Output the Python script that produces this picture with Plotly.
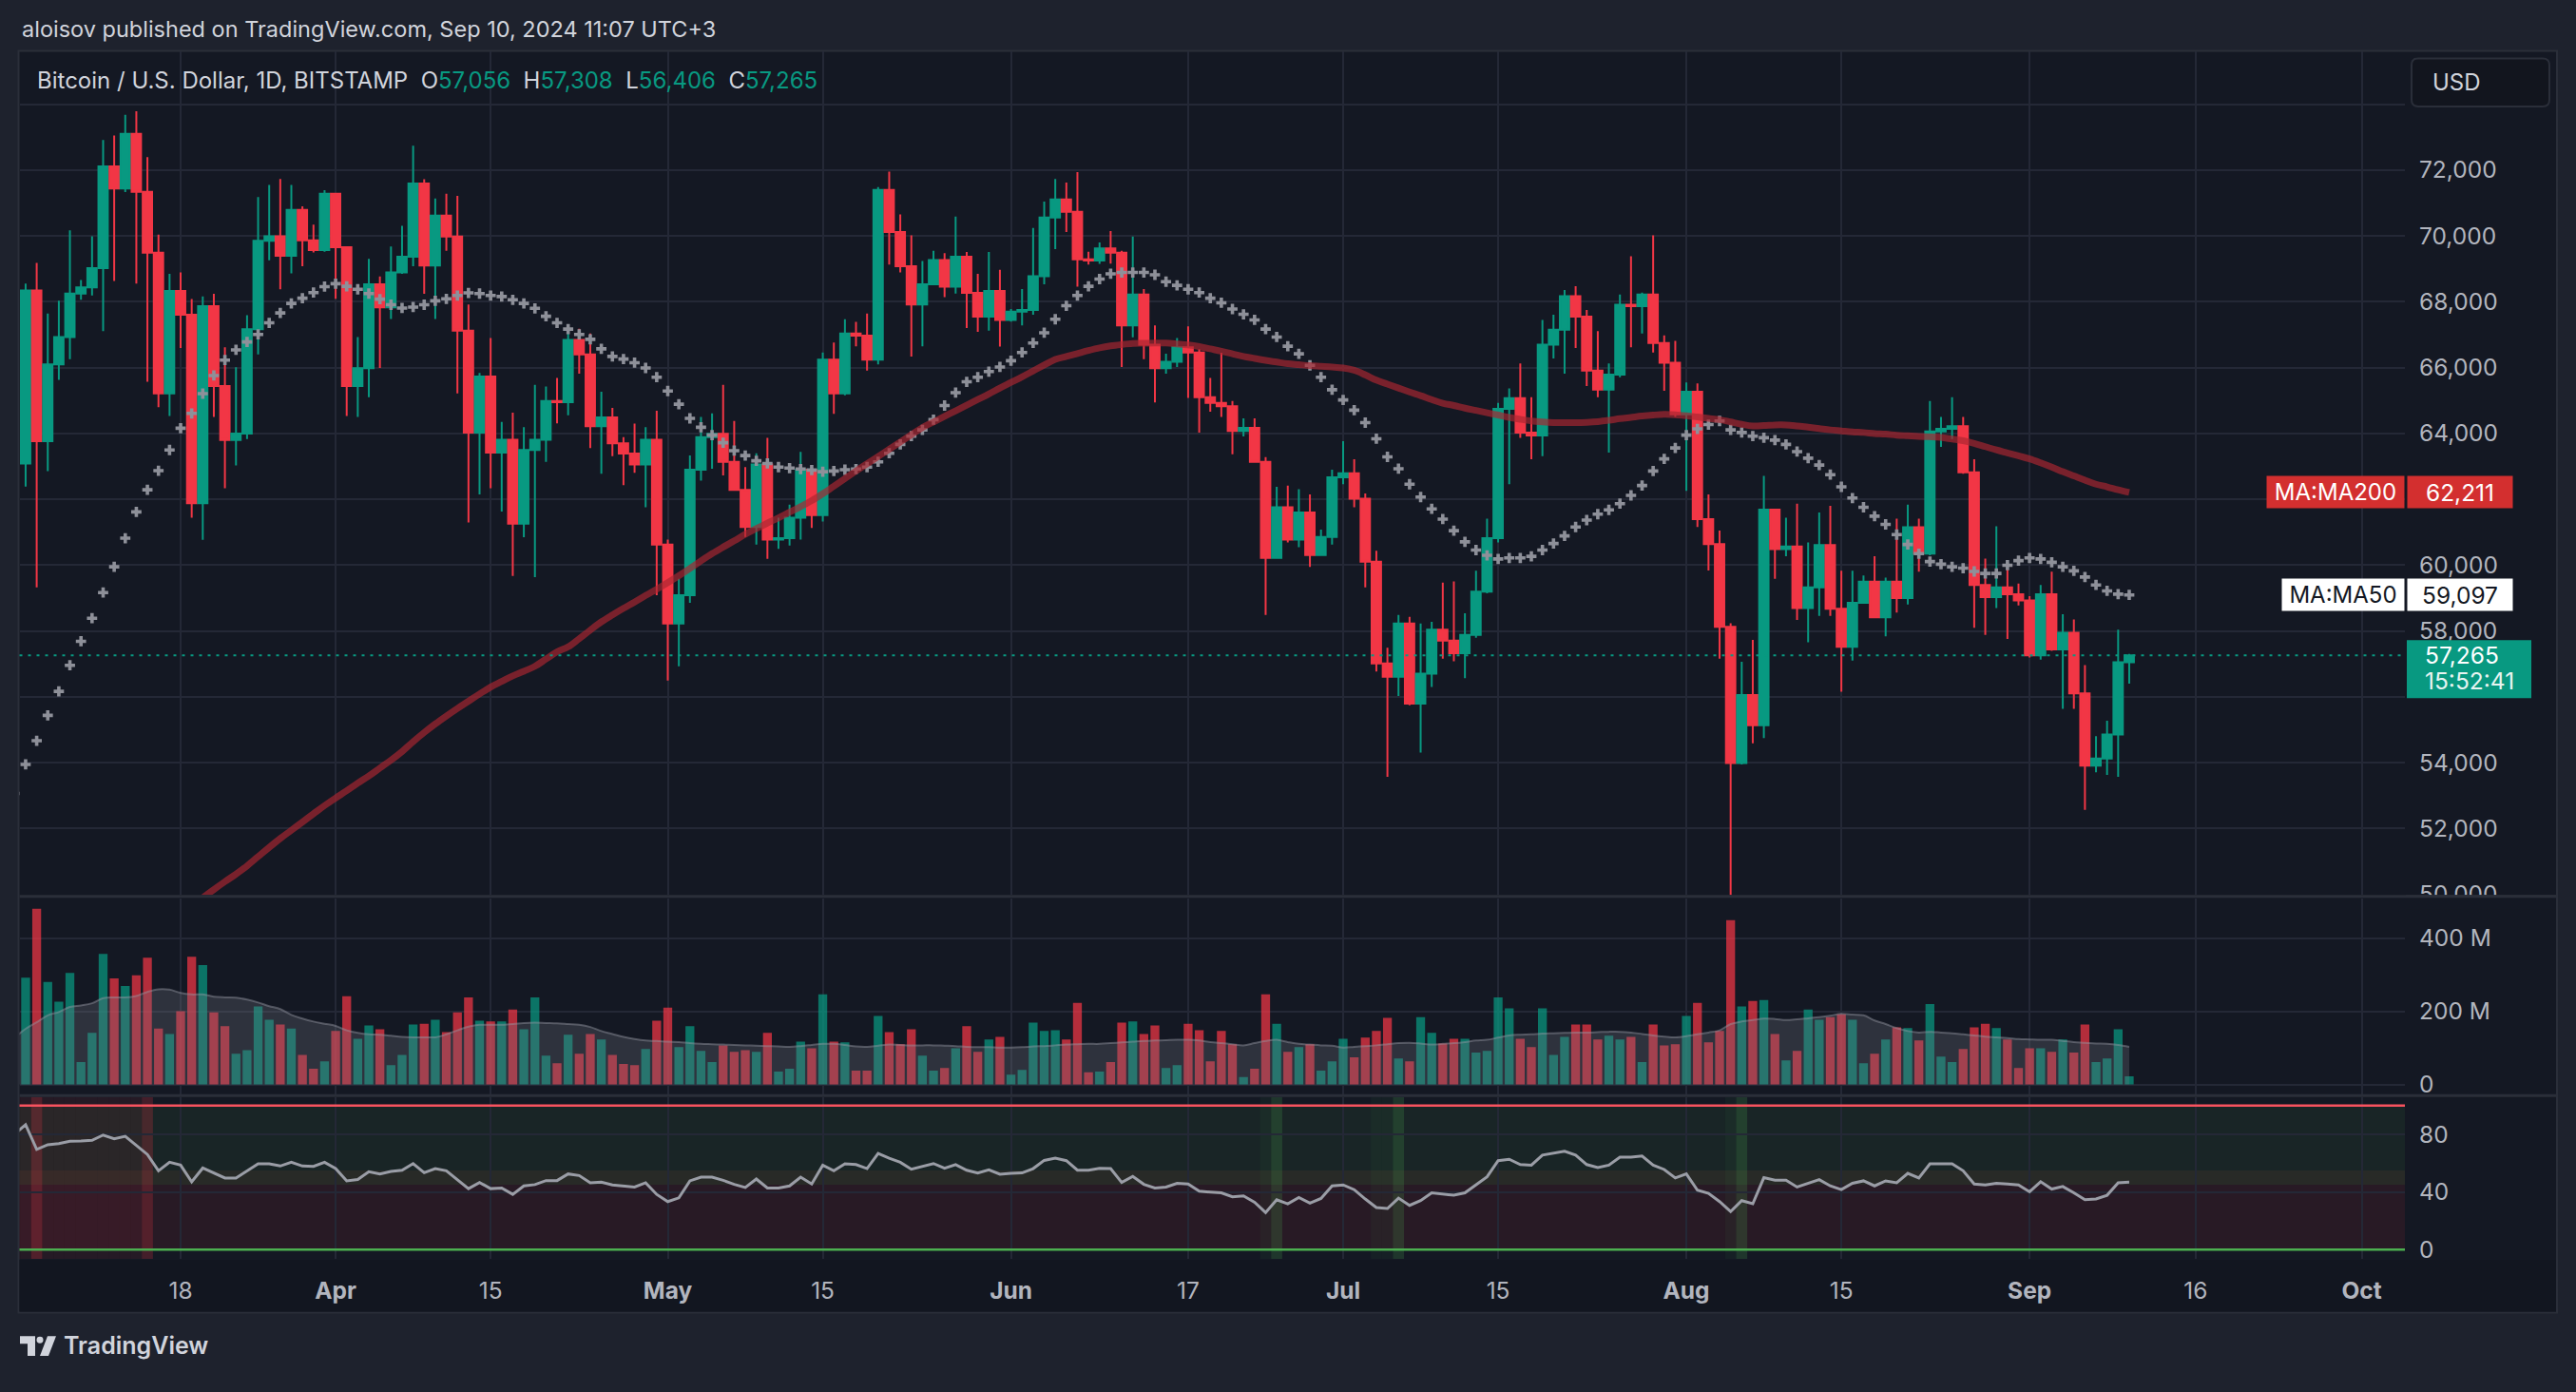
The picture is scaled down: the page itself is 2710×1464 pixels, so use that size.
import pandas as pd
import plotly.graph_objects as go

# the page adds a small strip under the figure; keep the figure itself a bit shorter than the window
W, H = 2710, 1448

# BTC/USD daily candles (BITSTAMP), 4 Mar 2024 .. 10 Sep 2024
opens = [
    63090, 68340, 63770, 66100, 66930, 68250, 68440, 69020, 72110, 71440,
    73100, 71340, 69490, 65220, 68330, 67610, 61880, 67870, 65440, 63800,
    64000, 67170, 69850, 69990, 69400, 70790, 69870, 69570, 71280, 69660,
    65440, 65980, 68530, 67830, 68890, 69370, 71590, 69100, 70620, 69980,
    67120, 64030, 65730, 63420, 63810, 61260, 63500, 63810, 64990, 64950,
    66840, 66400, 64220, 64490, 63700, 63390, 63060, 63810, 60630, 58230,
    59090, 62900, 63890, 63990, 63140, 62290, 61160, 63060, 60780, 60820,
    61440, 62900, 61520, 66240, 65220, 67040, 66970, 66240, 71400, 70120,
    69080, 67920, 68530, 69270, 68460, 69370, 68270, 67550, 68330, 67450,
    67700, 67750, 68780, 70560, 71110, 70730, 69290, 69250, 69620, 69490,
    67280, 68220, 66700, 65980, 66180, 66620, 66460, 65100, 64930, 64830,
    64080, 64170, 63140, 60220, 61760, 60780, 61600, 60310, 60860, 62670,
    62790, 62020, 60110, 57020, 56610, 58230, 55800, 56710, 58040, 57710,
    57330, 57880, 59200, 60820, 64750, 65070, 64030, 63940, 66700, 67150,
    68170, 67550, 65910, 65330, 65790, 67910, 67870, 68220, 66750, 66150,
    64580, 65270, 61400, 60640, 58130, 53990, 56060, 55140, 61690, 60490,
    60570, 58700, 59330, 60610, 58680, 57520, 58860, 59500, 58420, 59500,
    59000, 61150, 60350, 64060, 64140, 64220, 62820, 59400, 59030, 59330,
    59120, 58930, 57260, 59120, 57440, 57950, 56110, 53910, 54130, 54860,
    57056,
]
highs = [
    68550, 69180, 67640, 68030, 70170, 68660, 69990, 72910, 73050, 73680,
    73790, 72390, 70040, 68850, 68890, 68080, 68160, 68240, 66620, 66010,
    67590, 71180, 71550, 71730, 71550, 70900, 70340, 71390, 71300, 69680,
    66930, 69300, 68770, 69680, 70310, 72740, 71720, 71140, 71280, 71220,
    67920, 65840, 66900, 64350, 64630, 64190, 65480, 65430, 65690, 67250,
    67180, 67040, 65270, 64780, 63890, 64300, 64190, 64690, 60780, 59590,
    63330, 64500, 64610, 65480, 64380, 62980, 63400, 63870, 61440, 61840,
    63440, 63040, 66460, 66760, 67470, 67390, 67640, 71480, 71950, 70650,
    70020, 69240, 69550, 69480, 70590, 69510, 68850, 69510, 68970, 67780,
    68390, 70240, 71040, 71730, 71620, 71940, 69520, 69800, 70150, 69550,
    69980, 68390, 67280, 66420, 66900, 67250, 66560, 65690, 66450, 64990,
    64460, 64460, 63280, 62380, 62420, 62310, 62150, 61080, 62900, 63770,
    63220, 62180, 60440, 57490, 58490, 58430, 58230, 58280, 59470, 59510,
    58540, 59830, 61410, 64930, 65370, 66130, 65100, 67450, 67610, 68360,
    68470, 67750, 67110, 66130, 68220, 69380, 68280, 70020, 66980, 66810,
    65550, 65520, 62150, 61050, 58240, 57070, 57730, 62710, 61710, 61440,
    61870, 60690, 61600, 61800, 59830, 59830, 59690, 60270, 59620, 61410,
    61840, 61410, 64990, 64500, 65100, 64500, 63220, 60200, 61180, 59880,
    59440, 59060, 59400, 59800, 58510, 58350, 56970, 54810, 55280, 58040,
    57308,
]
lows = [
    62390, 59330, 62860, 65630, 66260, 68060, 68190, 67110, 68630, 71330,
    68550, 65570, 64800, 64530, 66600, 61440, 60770, 64500, 62340, 63030,
    63830, 66400, 69260, 68380, 68860, 69080, 69500, 69520, 68090, 64530,
    64500, 65100, 65990, 67480, 68850, 69080, 68240, 67480, 69550, 65220,
    61300, 62150, 62340, 61630, 59670, 60850, 59640, 63140, 64310, 64550,
    65820, 63560, 62780, 63310, 62430, 62810, 61760, 59090, 56500, 56930,
    58860, 62570, 62930, 62730, 62260, 60860, 60630, 60190, 60500, 60600,
    60780, 61130, 61330, 64600, 65160, 66650, 65910, 66100, 69130, 68890,
    66340, 66650, 68500, 68140, 68250, 67200, 67090, 67120, 66640, 67400,
    67280, 67610, 68530, 69600, 70120, 68460, 69130, 69150, 69160, 66020,
    66920, 66260, 64940, 65820, 66020, 65080, 64030, 64660, 64500, 63370,
    63910, 63130, 58490, 60200, 60690, 60550, 59950, 60300, 60630, 62460,
    61760, 59330, 56770, 53570, 56030, 55750, 54310, 56300, 57160, 57080,
    56570, 57800, 59150, 60690, 62460, 63870, 63220, 63310, 66280, 65820,
    66600, 65440, 65100, 63420, 65710, 66620, 67040, 66460, 65300, 64500,
    62260, 61160, 59840, 57160, 49050, 53950, 54590, 54750, 59590, 60270,
    58340, 57660, 58460, 58460, 56160, 57100, 58850, 58400, 57840, 58560,
    58810, 59800, 60300, 63590, 63830, 62780, 58100, 57880, 58700, 57760,
    58780, 57200, 57130, 57400, 55640, 55640, 52570, 53710, 53630, 53570,
    56406,
]
closes = [
    68340, 63770, 66100, 66930, 68250, 68440, 69020, 72110, 71440, 73100,
    71340, 69490, 65220, 68330, 67610, 61880, 67870, 65440, 63800, 64000,
    67170, 69850, 69990, 69400, 70790, 69870, 69570, 71280, 69660, 65440,
    65980, 68530, 67830, 68890, 69370, 71590, 69100, 70620, 69980, 67120,
    64030, 65730, 63420, 63810, 61260, 63500, 63810, 64990, 64950, 66840,
    66400, 64220, 64490, 63700, 63390, 63060, 63810, 60630, 58230, 59090,
    62900, 63890, 63990, 63140, 62290, 61160, 63060, 60780, 60820, 61440,
    62900, 61520, 66240, 65220, 67040, 66970, 66240, 71400, 70120, 69080,
    67920, 68530, 69270, 68460, 69370, 68270, 67550, 68330, 67450, 67700,
    67750, 68780, 70560, 71110, 70730, 69290, 69250, 69620, 69490, 67280,
    68220, 66700, 65980, 66180, 66620, 66460, 65100, 64930, 64830, 64080,
    64170, 63140, 60220, 61760, 60780, 61600, 60310, 60860, 62670, 62790,
    62020, 60110, 57020, 56610, 58230, 55800, 56710, 58040, 57710, 57330,
    57880, 59200, 60820, 64750, 65070, 64030, 63940, 66700, 67150, 68170,
    67550, 65910, 65330, 65790, 67910, 67870, 68220, 66750, 66150, 64580,
    65270, 61400, 60640, 58130, 53990, 56060, 55140, 61690, 60490, 60570,
    58700, 59330, 60610, 58680, 57520, 58860, 59500, 58420, 59500, 59000,
    61150, 60350, 64060, 64140, 64220, 62820, 59400, 59030, 59330, 59120,
    58930, 57260, 59120, 57440, 57950, 56110, 53910, 54130, 54860, 57050,
    57265,
]
# volume, millions
volume_m = [
    292, 480, 280, 226, 305, 61, 141, 357, 290, 269,
    298, 346, 153, 138, 200, 349, 326, 197, 159, 84,
    94, 213, 177, 164, 153, 81, 43, 63, 146, 241,
    125, 161, 151, 53, 81, 164, 166, 177, 143, 197,
    238, 174, 172, 172, 205, 151, 238, 79, 58, 136,
    84, 138, 123, 81, 56, 53, 97, 174, 210, 102,
    159, 92, 61, 107, 89, 94, 89, 141, 35, 43,
    117, 99, 246, 117, 115, 38, 38, 187, 143, 110,
    151, 79, 38, 45, 99, 159, 89, 123, 130, 27,
    40, 169, 146, 148, 123, 223, 33, 35, 61, 169,
    172, 138, 161, 45, 53, 166, 148, 63, 146, 110,
    20, 43, 246, 166, 89, 102, 110, 38, 63, 125,
    74, 128, 146, 182, 71, 63, 184, 141, 112, 125,
    125, 87, 92, 238, 208, 125, 102, 208, 81, 130,
    164, 164, 123, 133, 123, 130, 61, 164, 107, 110,
    187, 223, 115, 146, 449, 213, 228, 231, 138, 66,
    92, 205, 177, 184, 192, 177, 58, 84, 123, 156,
    154, 120, 220, 76, 61, 97, 156, 166, 154, 123,
    45, 99, 99, 89, 123, 87, 164, 61, 71, 151,
    22,
]

# the series below start one day earlier (3 Mar), their first point is cut by the left edge
ma50 = [
    53070, 53950, 54670, 55440, 56170, 56960, 57690, 58390, 59170, 59950,
    60820, 61620, 62290, 62870, 63500, 64160, 64610, 65210, 65760, 66230,
    66540, 66780, 67010, 67360, 67660, 67950, 68110, 68280, 68460, 68550,
    68470, 68380, 68250, 68080, 67910, 67810, 67840, 67910, 68030, 68090,
    68190, 68270, 68250, 68190, 68160, 68060, 67950, 67800, 67560, 67360,
    67170, 67010, 66860, 66570, 66340, 66260, 66150, 65990, 65710, 65290,
    64890, 64460, 64190, 63950, 63720, 63480, 63330, 63170, 63090, 62980,
    62950, 62920, 62890, 62840, 62860, 62900, 62920, 62980, 63140, 63400,
    63670, 63920, 64110, 64420, 64850, 65240, 65570, 65710, 65880, 66020,
    66210, 66460, 66750, 67060, 67470, 67880, 68190, 68470, 68690, 68850,
    68890, 68890, 68890, 68820, 68610, 68500, 68380, 68280, 68110, 67970,
    67780, 67620, 67450, 67170, 66930, 66650, 66420, 66070, 65710, 65330,
    65020, 64710, 64330, 63840, 63290, 62930, 62460, 62070, 61710, 61400,
    61050, 60710, 60460, 60300, 60190, 60220, 60220, 60270, 60460, 60660,
    60890, 61160, 61370, 61550, 61680, 61870, 62120, 62420, 62860, 63230,
    63560, 63950, 64140, 64270, 64380, 64110, 64030, 63920, 63870, 63800,
    63670, 63450, 63250, 63040, 62750, 62380, 62040, 61760, 61490, 61240,
    60930, 60630, 60350, 60110, 60030, 59950, 59910, 59810, 59750, 59750,
    60000, 60140, 60220, 60190, 60090, 59950, 59830, 59640, 59400, 59220,
    59120, 59097,
]
rsi = [
    80.2, 86.7, 69.5, 72.8, 73.6, 75.2, 75.4, 75.8, 79.5, 76.9,
    78.6, 72.1, 66.0, 54.7, 60.6, 58.6, 47.0, 56.6, 52.9, 49.7,
    49.7, 54.7, 59.5, 59.5, 58.0, 60.6, 58.0, 57.7, 60.6, 56.2,
    47.7, 48.6, 54.0, 52.5, 54.2, 55.1, 59.7, 53.4, 56.2, 54.7,
    48.6, 42.3, 46.6, 42.3, 42.7, 38.3, 44.2, 45.1, 47.9, 47.9,
    52.5, 51.4, 46.4, 46.8, 44.9, 44.0, 43.4, 46.4, 38.3, 33.3,
    35.9, 47.7, 50.3, 50.3, 48.1, 45.3, 43.1, 49.0, 42.7, 42.7,
    44.2, 50.3, 45.5, 58.6, 54.7, 59.5, 59.0, 56.2, 66.7, 63.4,
    60.6, 55.8, 58.0, 59.7, 56.4, 59.0, 55.1, 53.2, 55.3, 52.3,
    52.9, 53.2, 56.2, 61.9, 63.4, 61.7, 55.1, 55.1, 56.4, 56.2,
    46.6, 50.8, 45.3, 42.7, 43.4, 46.0, 45.5, 40.5, 39.9, 39.4,
    36.6, 37.3, 32.9, 25.7, 34.6, 31.8, 36.2, 32.2, 35.5, 44.2,
    44.9, 41.6, 35.1, 29.2, 28.5, 35.7, 30.7, 34.0, 39.4, 38.8,
    37.7, 39.4, 44.9, 50.5, 61.7, 62.7, 59.0, 58.6, 65.6, 66.7,
    68.2, 65.6, 59.0, 56.9, 58.6, 64.1, 64.1, 64.9, 58.6, 55.6,
    49.7, 52.5, 41.2, 39.0, 33.3, 26.4, 34.0, 31.8, 49.9, 48.1,
    48.1, 43.4, 46.0, 48.6, 44.2, 41.6, 46.0, 47.7, 44.2, 47.7,
    46.4, 52.9, 49.7, 59.5, 59.5, 59.5, 54.7, 45.5, 44.9, 46.0,
    45.5, 44.9, 40.1, 47.1, 42.0, 43.8, 39.4, 34.6, 35.1, 37.7,
    46.4, 46.8,
]
vol_ma_m = [
    128, 152, 170, 189, 198, 212, 216, 222, 236, 238,
    238, 242, 253, 260, 259, 250, 246, 246, 240, 238,
    237, 232, 224, 214, 206, 190, 180, 172, 166, 160,
    148, 141, 137, 136, 133, 130, 129, 129, 129, 137,
    148, 158, 163, 163, 163, 165, 168, 169, 168, 167,
    165, 163, 157, 146, 138, 130, 124, 120, 119, 117,
    116, 113, 111, 110, 109, 108, 107, 106, 105, 104,
    103, 105, 108, 111, 111, 108, 104, 103, 106, 109,
    108, 107, 107, 107, 106, 105, 103, 102, 102, 101,
    101, 102, 104, 105, 107, 109, 110, 111, 111, 113,
    115, 117, 119, 120, 121, 122, 122, 120, 116, 113,
    110, 107, 113, 119, 122, 116, 111, 109, 107, 106,
    101, 103, 105, 107, 110, 113, 114, 112, 109, 111,
    113, 116, 120, 122, 128, 134, 136, 137, 139, 140,
    141, 142, 142, 143, 144, 144, 142, 138, 134, 131,
    129, 132, 137, 142, 148, 165, 172, 176, 180, 179,
    176, 178, 181, 184, 188, 193, 191, 189, 175, 165,
    154, 146, 142, 144, 142, 140, 137, 134, 131, 129,
    127, 124, 123, 122, 122, 119, 116, 114, 112, 111,
    108, 103,
]
# MA200 enters the chart from below on 19 Mar
ma200 = [
    49660, 49900, 50150, 50390, 50620, 50870, 51150, 51430, 51700, 51950,
    52200, 52450, 52700, 52930, 53150, 53380, 53600, 53840, 54080, 54340,
    54640, 54920, 55180, 55420, 55650, 55870, 56090, 56300, 56470, 56640,
    56780, 56930, 57150, 57370, 57520, 57770, 58030, 58280, 58490, 58690,
    58880, 59080, 59270, 59470, 59680, 59900, 60130, 60350, 60550, 60740,
    60940, 61110, 61280, 61440, 61610, 61780, 61960, 62170, 62400, 62630,
    62860, 63080, 63300, 63520, 63740, 63960, 64180, 64350, 64520, 64690,
    64860, 65030, 65200, 65380, 65550, 65720, 65900, 66080, 66250, 66340,
    66430, 66520, 66600, 66660, 66700, 66730, 66740, 66750, 66745, 66720,
    66690, 66640, 66570, 66500, 66420, 66340, 66280, 66220, 66170, 66120,
    66090, 66060, 66040, 66020, 65990, 65920, 65780, 65620, 65500, 65380,
    65260, 65150, 65030, 64920, 64850, 64770, 64700, 64630, 64560, 64490,
    64430, 64380, 64350, 64330, 64330, 64330, 64340, 64360, 64400, 64450,
    64490, 64530, 64560, 64580, 64570, 64540, 64500, 64460, 64420, 64350,
    64280, 64230, 64240, 64260, 64260, 64230, 64190, 64150, 64110, 64080,
    64050, 64030, 64000, 63980, 63950, 63930, 63910, 63900, 63880, 63830,
    63780, 63700, 63600, 63500, 63410, 63320, 63230, 63110, 62980, 62840,
    62710, 62580, 62460, 62380, 62290, 62211,
]

# RSI background marks
overbought_days = pd.date_range("2024-03-03", "2024-03-14")
sell_days = ["2024-03-05", "2024-03-15"]
oversold_days = ["2024-06-24", "2024-07-04", "2024-07-05", "2024-08-05"]
buy_days = ["2024-06-25", "2024-07-06", "2024-08-06"]

grid_dates = ["2024-03-18", "2024-04-01", "2024-04-15", "2024-05-01", "2024-05-15",
              "2024-06-01", "2024-06-17", "2024-07-01", "2024-07-15", "2024-08-01",
              "2024-08-15", "2024-09-01", "2024-09-16", "2024-10-01"]
grid_labels = ["18", "<b>Apr</b>", "15", "<b>May</b>", "15", "<b>Jun</b>", "17", "<b>Jul</b>",
               "15", "<b>Aug</b>", "15", "<b>Sep</b>", "16", "<b>Oct</b>"]
price_ticks = list(range(50000, 76000, 2000))
hidden_ticks = {56000, 62000, 74000}   # sit under the price tags / USD button

last_price = 57265
last_ma50 = 59097
last_ma200 = 62211

dates = pd.date_range("2024-03-04", periods=len(closes), freq="D")
dates_early = pd.date_range("2024-03-03", periods=len(ma50), freq="D")
dates_ma200 = pd.date_range("2024-03-19", periods=len(ma200), freq="D")

UP, DOWN = "#089981", "#F23645"
BG, OUTER, GRID, BORDER = "#141823", "#1E222D", "#242836", "#2A2E39"
TXT, AXT = "#D1D4DC", "#B2B5BE"
FONT = "Inter"


def px(x):
    return x / W


def py(y):
    return 1 - y / H


# x range: half a bar before 4 Mar, empty space up to early October
t0 = dates[0] - pd.Timedelta(hours=13.3)
t1 = dates[0] + pd.Timedelta(days=214.9)
xdom = [px(20.5), px(2530)]

fig = go.Figure()

fig.add_trace(go.Candlestick(
    x=dates, open=opens, high=highs, low=lows, close=closes,
    increasing=dict(line=dict(color=UP, width=2), fillcolor=UP),
    decreasing=dict(line=dict(color=DOWN, width=2), fillcolor=DOWN),
    whiskerwidth=0, xaxis="x", yaxis="y", hoverinfo="skip",
))
fig.add_trace(go.Scatter(
    x=dates_early, y=ma50, mode="markers", xaxis="x", yaxis="y",
    marker=dict(symbol="cross", size=9, color="#8E9099", line=dict(width=0)),
))
fig.add_trace(go.Scatter(
    x=dates_ma200, y=ma200, mode="lines", xaxis="x", yaxis="y",
    line=dict(color="rgba(170,38,48,0.68)", width=7, shape="spline"),
))

vol_colors = ["rgba(8,153,129,0.72)" if c >= o else "rgba(242,54,69,0.72)"
              for o, c in zip(opens, closes)]
fig.add_trace(go.Bar(x=dates, y=volume_m, marker=dict(color=vol_colors, line=dict(width=0)),
                     xaxis="x2", yaxis="y2"))
fig.add_trace(go.Scatter(
    x=dates_early, y=vol_ma_m, mode="lines", fill="tozeroy", xaxis="x2", yaxis="y2",
    line=dict(color="rgba(150,153,164,0.45)", width=2, shape="spline"),
    fillcolor="rgba(120,123,134,0.27)",
))
fig.add_trace(go.Scatter(
    x=dates_early, y=rsi, mode="lines", xaxis="x3", yaxis="y3",
    line=dict(color="#9A9DA6", width=3),
))

shapes = []
# chart frame
shapes.append(dict(type="rect", xref="paper", yref="paper", layer="below",
                   x0=px(19.5), x1=px(2690), y0=py(54), y1=py(1394),
                   fillcolor=BG, line=dict(color=BORDER, width=2)))
# time scale row is a touch darker
shapes.append(dict(type="rect", xref="paper", yref="paper", layer="below",
                   x0=px(20.5), x1=px(2689), y0=py(1338), y1=py(1393),
                   fillcolor="#121620", line=dict(width=0)))
# RSI zones
for lo, hi, col in [(55, 100, "rgba(76,175,80,0.09)"), (45, 55, "rgba(214,190,70,0.11)"),
                    (0, 45, "rgba(242,54,69,0.09)")]:
    shapes.append(dict(type="rect", xref="x3 domain", yref="y3", layer="below",
                       x0=0, x1=1, y0=lo, y1=hi, fillcolor=col, line=dict(width=0)))


def day_band(d, col):
    d = pd.Timestamp(d)
    return dict(type="rect", xref="x3", yref="y3 domain", layer="below",
                x0=d - pd.Timedelta(hours=12), x1=d + pd.Timedelta(hours=12), y0=0, y1=1,
                fillcolor=col, line=dict(width=0))


for d in overbought_days:
    shapes.append(day_band(d, "rgba(242,54,69,0.08)"))
for d in sell_days:
    shapes.append(day_band(d, "rgba(242,54,69,0.22)"))
for d in oversold_days:
    shapes.append(day_band(d, "rgba(76,175,80,0.06)"))
for d in buy_days:
    shapes.append(day_band(d, "rgba(76,175,80,0.2)"))
shapes.append(dict(type="line", xref="x3 domain", yref="y3", x0=0, x1=1, y0=100, y1=100,
                   line=dict(color="#F7525F", width=2.5)))
shapes.append(dict(type="line", xref="x3 domain", yref="y3", x0=0, x1=1, y0=0, y1=0,
                   line=dict(color="#4CAF50", width=2.5)))

# last price dotted line
shapes.append(dict(type="line", xref="x domain", yref="y", x0=0, x1=1,
                   y0=last_price, y1=last_price, line=dict(color=UP, width=2, dash="3px,6px")))

# pane separators
for yy in (952, 1163.5):
    shapes.append(dict(type="line", xref="paper", yref="paper", x0=px(20.5), x1=px(2689),
                       y0=py(yy), y1=py(yy), line=dict(color=BORDER, width=3)))
# cut the lower half of the 50,000 label like the pane edge does
shapes.append(dict(type="rect", xref="paper", yref="paper", layer="above",
                   x0=px(2531), x1=px(2689), y0=py(953), y1=py(966),
                   fillcolor=BG, line=dict(width=0)))
shapes.append(dict(type="line", xref="paper", yref="paper", x0=px(2531), x1=px(2689),
                   y0=py(952), y1=py(952), line=dict(color=BORDER, width=3)))

# last price tag background
shapes.append(dict(type="rect", xref="paper", yref="y", ysizemode="pixel", yanchor=last_price,
                   x0=px(2532), x1=px(2663), y0=-45, y1=16, layer="above",
                   fillcolor=UP, line=dict(width=0)))


def rounded_box(x0, y0, x1, y1, r):
    pts = [f"M{px(x0 + r)},{py(y0)}", f"L{px(x1 - r)},{py(y0)}",
           f"Q{px(x1)},{py(y0)} {px(x1)},{py(y0 + r)}", f"L{px(x1)},{py(y1 - r)}",
           f"Q{px(x1)},{py(y1)} {px(x1 - r)},{py(y1)}", f"L{px(x0 + r)},{py(y1)}",
           f"Q{px(x0)},{py(y1)} {px(x0)},{py(y1 - r)}", f"L{px(x0)},{py(y0 + r)}",
           f"Q{px(x0)},{py(y0)} {px(x0 + r)},{py(y0)}", "Z"]
    return " ".join(pts)


shapes.append(dict(type="path", xref="paper", yref="paper", layer="above",
                   path=rounded_box(2537, 62, 2682, 113, 7),
                   fillcolor="#12151E", line=dict(color=BORDER, width=2)))


def poly(points):
    return "M" + " L".join(f"{px(x)},{py(y)}" for x, y in points) + " Z"


# TradingView logo mark
shapes.append(dict(type="path", xref="paper", yref="paper", layer="above",
                   path=poly([(21, 1419), (37, 1419), (37, 1440), (29, 1440), (29, 1427), (21, 1427)]),
                   fillcolor=TXT, line=dict(width=0)))
shapes.append(dict(type="circle", xref="paper", yref="paper", layer="above",
                   x0=px(38.5), x1=px(45.5), y0=py(1426.5), y1=py(1419.5),
                   fillcolor=TXT, line=dict(width=0)))
shapes.append(dict(type="path", xref="paper", yref="paper", layer="above",
                   path=poly([(50, 1419), (59, 1419), (51, 1440), (42, 1440)]),
                   fillcolor=TXT, line=dict(width=0)))

ann = []
ann.append(dict(xref="paper", yref="paper", x=px(21), y=py(31), xanchor="left", yanchor="middle",
                showarrow=False, text="aloisov published on TradingView.com, Sep 10, 2024 11:07 UTC+3",
                font=dict(family=FONT, size=23.5, color=TXT)))


def val(v):
    return f'<span style="color:{UP}">{v:,}</span>'


legend = ("Bitcoin / U.S. Dollar, 1D, BITSTAMP\u00a0\u00a0O" + val(opens[-1]) + "\u00a0\u00a0H"
          + val(highs[-1]) + "\u00a0\u00a0L" + val(lows[-1]) + "\u00a0\u00a0C" + val(closes[-1]))
ann.append(dict(xref="paper", yref="paper", x=px(37), y=py(85), xanchor="left", yanchor="middle",
                showarrow=False, text=legend, font=dict(family=FONT, size=24, color=TXT)))
ann.append(dict(xref="paper", yref="paper", x=px(2557), y=py(87.5), xanchor="left", yanchor="middle",
                showarrow=False, text="USD", font=dict(family=FONT, size=24, color=TXT)))
ann.append(dict(xref="paper", yref="paper", x=px(65), y=py(1429), xanchor="left", yanchor="middle",
                showarrow=False, text="TradingView",
                font=dict(family=FONT, size=25, color=TXT, weight=600)))

# indicator tags on the price scale
for name, value, bg, fg, wname in [("MA:MA200", last_ma200, "#D32F2F", "#FFFFFF", 144),
                                   ("MA:MA50", last_ma50, "#FFFFFF", "#131722", 128)]:
    ann.append(dict(xref="paper", yref="y", x=px(2530), y=value, xanchor="right", yanchor="middle",
                    showarrow=False, text=name, bgcolor=bg, borderpad=0, width=wname, height=33,
                    font=dict(family=FONT, size=24, color=fg)))
    ann.append(dict(xref="paper", yref="y", x=px(2532), y=value, xanchor="left", yanchor="middle",
                    showarrow=False, text=f"{value:,}", bgcolor=bg, borderpad=0, width=110, height=33,
                    font=dict(family=FONT, size=24.5, color=fg)))
ann.append(dict(xref="paper", yref="y", x=px(2549), y=last_price, xanchor="left", yanchor="middle",
                showarrow=False, text=f"{last_price:,}", font=dict(family=FONT, size=24.5, color="#FFFFFF")))
ann.append(dict(xref="paper", yref="y", x=px(2549), y=last_price, xanchor="left", yanchor="middle",
                yshift=-27, showarrow=False, text="15:52:41",
                font=dict(family=FONT, size=24.5, color="#E6F4F1")))

xcommon = dict(type="date", range=[t0, t1], domain=xdom, showgrid=True, gridcolor=GRID,
               gridwidth=1.5, tickvals=grid_dates, zeroline=False, showline=False,
               showticklabels=False, fixedrange=True, rangeslider=dict(visible=False))
ycommon = dict(side="right", showgrid=True, gridcolor=GRID, gridwidth=1.5, zeroline=False,
               showline=False, ticks="", ticklabelstandoff=14, fixedrange=True,
               tickfont=dict(family=FONT, size=24.5, color=AXT))

fig.update_layout(
    width=W, height=H, margin=dict(l=0, r=0, t=0, b=0),
    paper_bgcolor=OUTER, plot_bgcolor=BG, showlegend=False,
    boxgap=0.15, boxgroupgap=0, bargap=0.2, hovermode=False,
    xaxis=dict(xcommon, anchor="y"),
    xaxis2=dict(xcommon, anchor="y2"),
    xaxis3=dict(xcommon, anchor="y3", showticklabels=True, ticktext=grid_labels,
                ticklabelstandoff=16, tickfont=dict(family=FONT, size=24.5, color=AXT)),
    yaxis=dict(ycommon, anchor="x", domain=[py(950.5), py(55)], range=[49984, 75592],
               tickvals=price_ticks,
               ticktext=["" if v in hidden_ticks else f"{v:,}" for v in price_ticks]),
    yaxis2=dict(ycommon, anchor="x2", domain=[py(1162), py(954)], range=[-26.5, 508.6],
                tickvals=[0, 200, 400], ticktext=["0", "200 M", "400 M"]),
    yaxis3=dict(ycommon, anchor="x3", domain=[py(1337), py(1165)], range=[-6.5, 105.9],
                tickvals=[0, 40, 80]),
    shapes=shapes, annotations=ann,
)

page_fix = (f"document.documentElement.style.background='{OUTER}';"
            f"document.body.style.background='{OUTER}';document.body.style.margin='0';")
fig.write_html("out.html", config={"displayModeBar": False}, post_script=page_fix)
